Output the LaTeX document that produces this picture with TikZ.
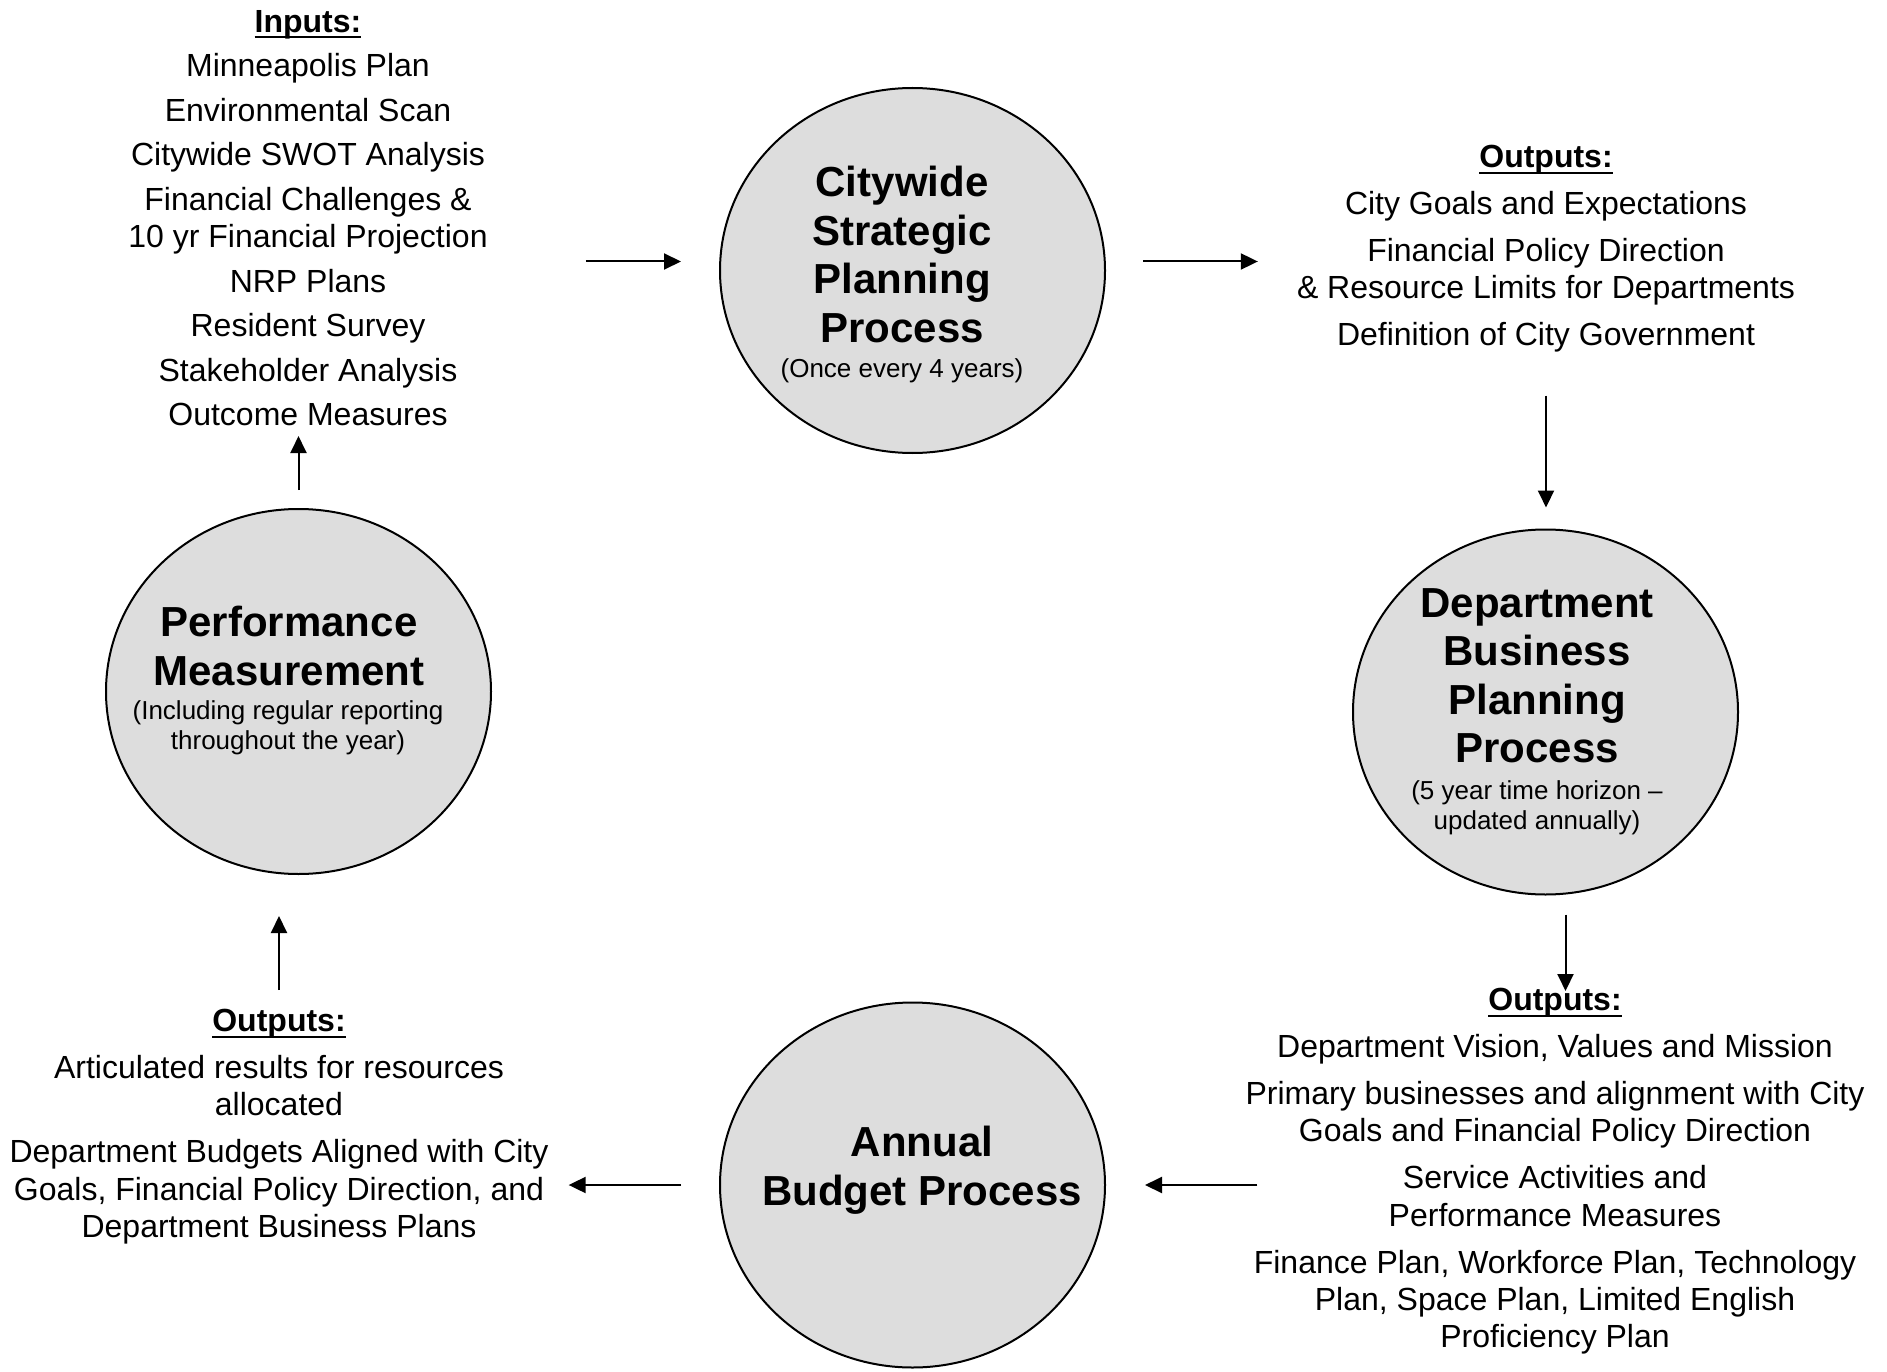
\documentclass[tikz,border=0pt]{standalone}
\usepackage{fontspec}
\setmainfont{Liberation Sans}
\usetikzlibrary{shapes.geometric,arrows.meta}
\definecolor{procgray}{HTML}{DDDDDD}

% bold heading with a fixed-offset underline
\newcommand\headline[1]{\setbox0\hbox{\bfseries #1}\rlap{\rule[-6pt]{\wd0}{2pt}}\box0}

\begin{document}
\begin{tikzpicture}[x=1pt,y=-1pt,
  proc/.style={ellipse, draw=black, line width=2pt, fill=procgray,
    minimum width=385pt, minimum height=365pt, inner sep=0pt},
  title/.style={anchor=north, align=center, inner sep=0pt,
    font=\fontsize{42}{48.5}\selectfont\bfseries},
  note/.style={anchor=north, align=center, inner sep=0pt,
    font=\fontsize{26}{30}\selectfont},
  list/.style={anchor=north, align=center, inner sep=0pt,
    font=\fontsize{32}{37.3}\selectfont},
  arr/.style={-{Triangle[length=17pt,width=16pt]}, line width=2pt}]

\useasboundingbox (0,0) rectangle (1887,1372);

% the four process circles
\node[proc] (cws) at (912.5,270.5) {};
\node[proc] (dbp) at (1545.5,712) {};
\node[proc] (abp) at (912.5,1185) {};
\node[proc] (pm)  at (298.5,691.5) {};

% circle captions
\node[title] (cwsT) at (902,166) {Citywide\\Strategic\\Planning\\Process};
\node[note]  (cwsN) at (902,358) {(Once every 4 years)};
\node[title] (dbpT) at (1537,588) {Department\\Business\\Planning\\Process};
\node[note]  (dbpN) at (1537,780) {(5 year time horizon –\\updated annually)};
\node[title] (abpT) at (922,1126) {Annual\\Budget Process};
\node[title] (pmT)  at (289,606) {Performance\\Measurement};
\node[note]  (pmN)  at (288,700) {(Including regular reporting\\throughout the year)};

% inputs and outputs lists
\node[list] (inputs) at (308,10) {\headline{Inputs:}\\[7.2pt]
  Minneapolis Plan\\[7.2pt]
  Environmental Scan\\[7.2pt]
  Citywide SWOT Analysis\\[7.2pt]
  Financial Challenges \&\\
  10 yr Financial Projection\\[7.2pt]
  NRP Plans\\[7.2pt]
  Resident Survey\\[7.2pt]
  Stakeholder Analysis\\[7.2pt]
  Outcome Measures};

\node[list] (outR) at (1546,145) {\headline{Outputs:}\\[9.7pt]
  City Goals and Expectations\\[9.7pt]
  Financial Policy Direction\\
  \& Resource Limits for Departments\\[9.7pt]
  Definition of City Government};

\node[list] (outBR) at (1555,988) {\headline{Outputs:}\\[9.7pt]
  Department Vision, Values and Mission\\[9.7pt]
  Primary businesses and alignment with City\\
  Goals and Financial Policy Direction\\[9.7pt]
  Service Activities and\\
  Performance Measures\\[9.7pt]
  Finance Plan, Workforce Plan, Technology\\
  Plan, Space Plan, Limited English\\
  Proficiency Plan};

\node[list] (outBL) at (279,1009) {\headline{Outputs:}\\[9.7pt]
  Articulated results for resources\\
  allocated\\[9.7pt]
  Department Budgets Aligned with City\\
  Goals, Financial Policy Direction, and\\
  Department Business Plans};

% connectors around the cycle
\coordinate (a1) at ([yshift=9pt]cws.west);
\draw[arr, shorten <=98pt, shorten >=38pt] (inputs.east |- a1) -- (a1);
\coordinate (a2) at ([yshift=9pt]cws.east);
\draw[arr, shorten <=37pt, shorten >=39pt] (a2) -- (a2 -| outR.west);
\draw[arr, shorten <=43pt, shorten >=21pt] (outR.south) -- (outR.south |- dbp.north);
\coordinate (a4) at ([xshift=20pt]dbp.south);
\draw[arr, shorten <=19pt, shorten >=-3pt] (a4) -- (a4 |- outBR.north);
\draw[arr, shorten <=-12pt, shorten >=39pt] (abp.east -| outBR.west) -- (abp.east);
\draw[arr, shorten <=38pt, shorten >=20pt] (abp.west) -- (abp.west -| outBL.east);
\draw[arr, shorten <=19pt, shorten >=41pt] (outBL.north) -- (outBL.north |- pm.south);
\draw[arr, shorten <=18pt, shorten >=10pt] (pm.north) -- (pm.north |- inputs.south);
\end{tikzpicture}
\end{document}
